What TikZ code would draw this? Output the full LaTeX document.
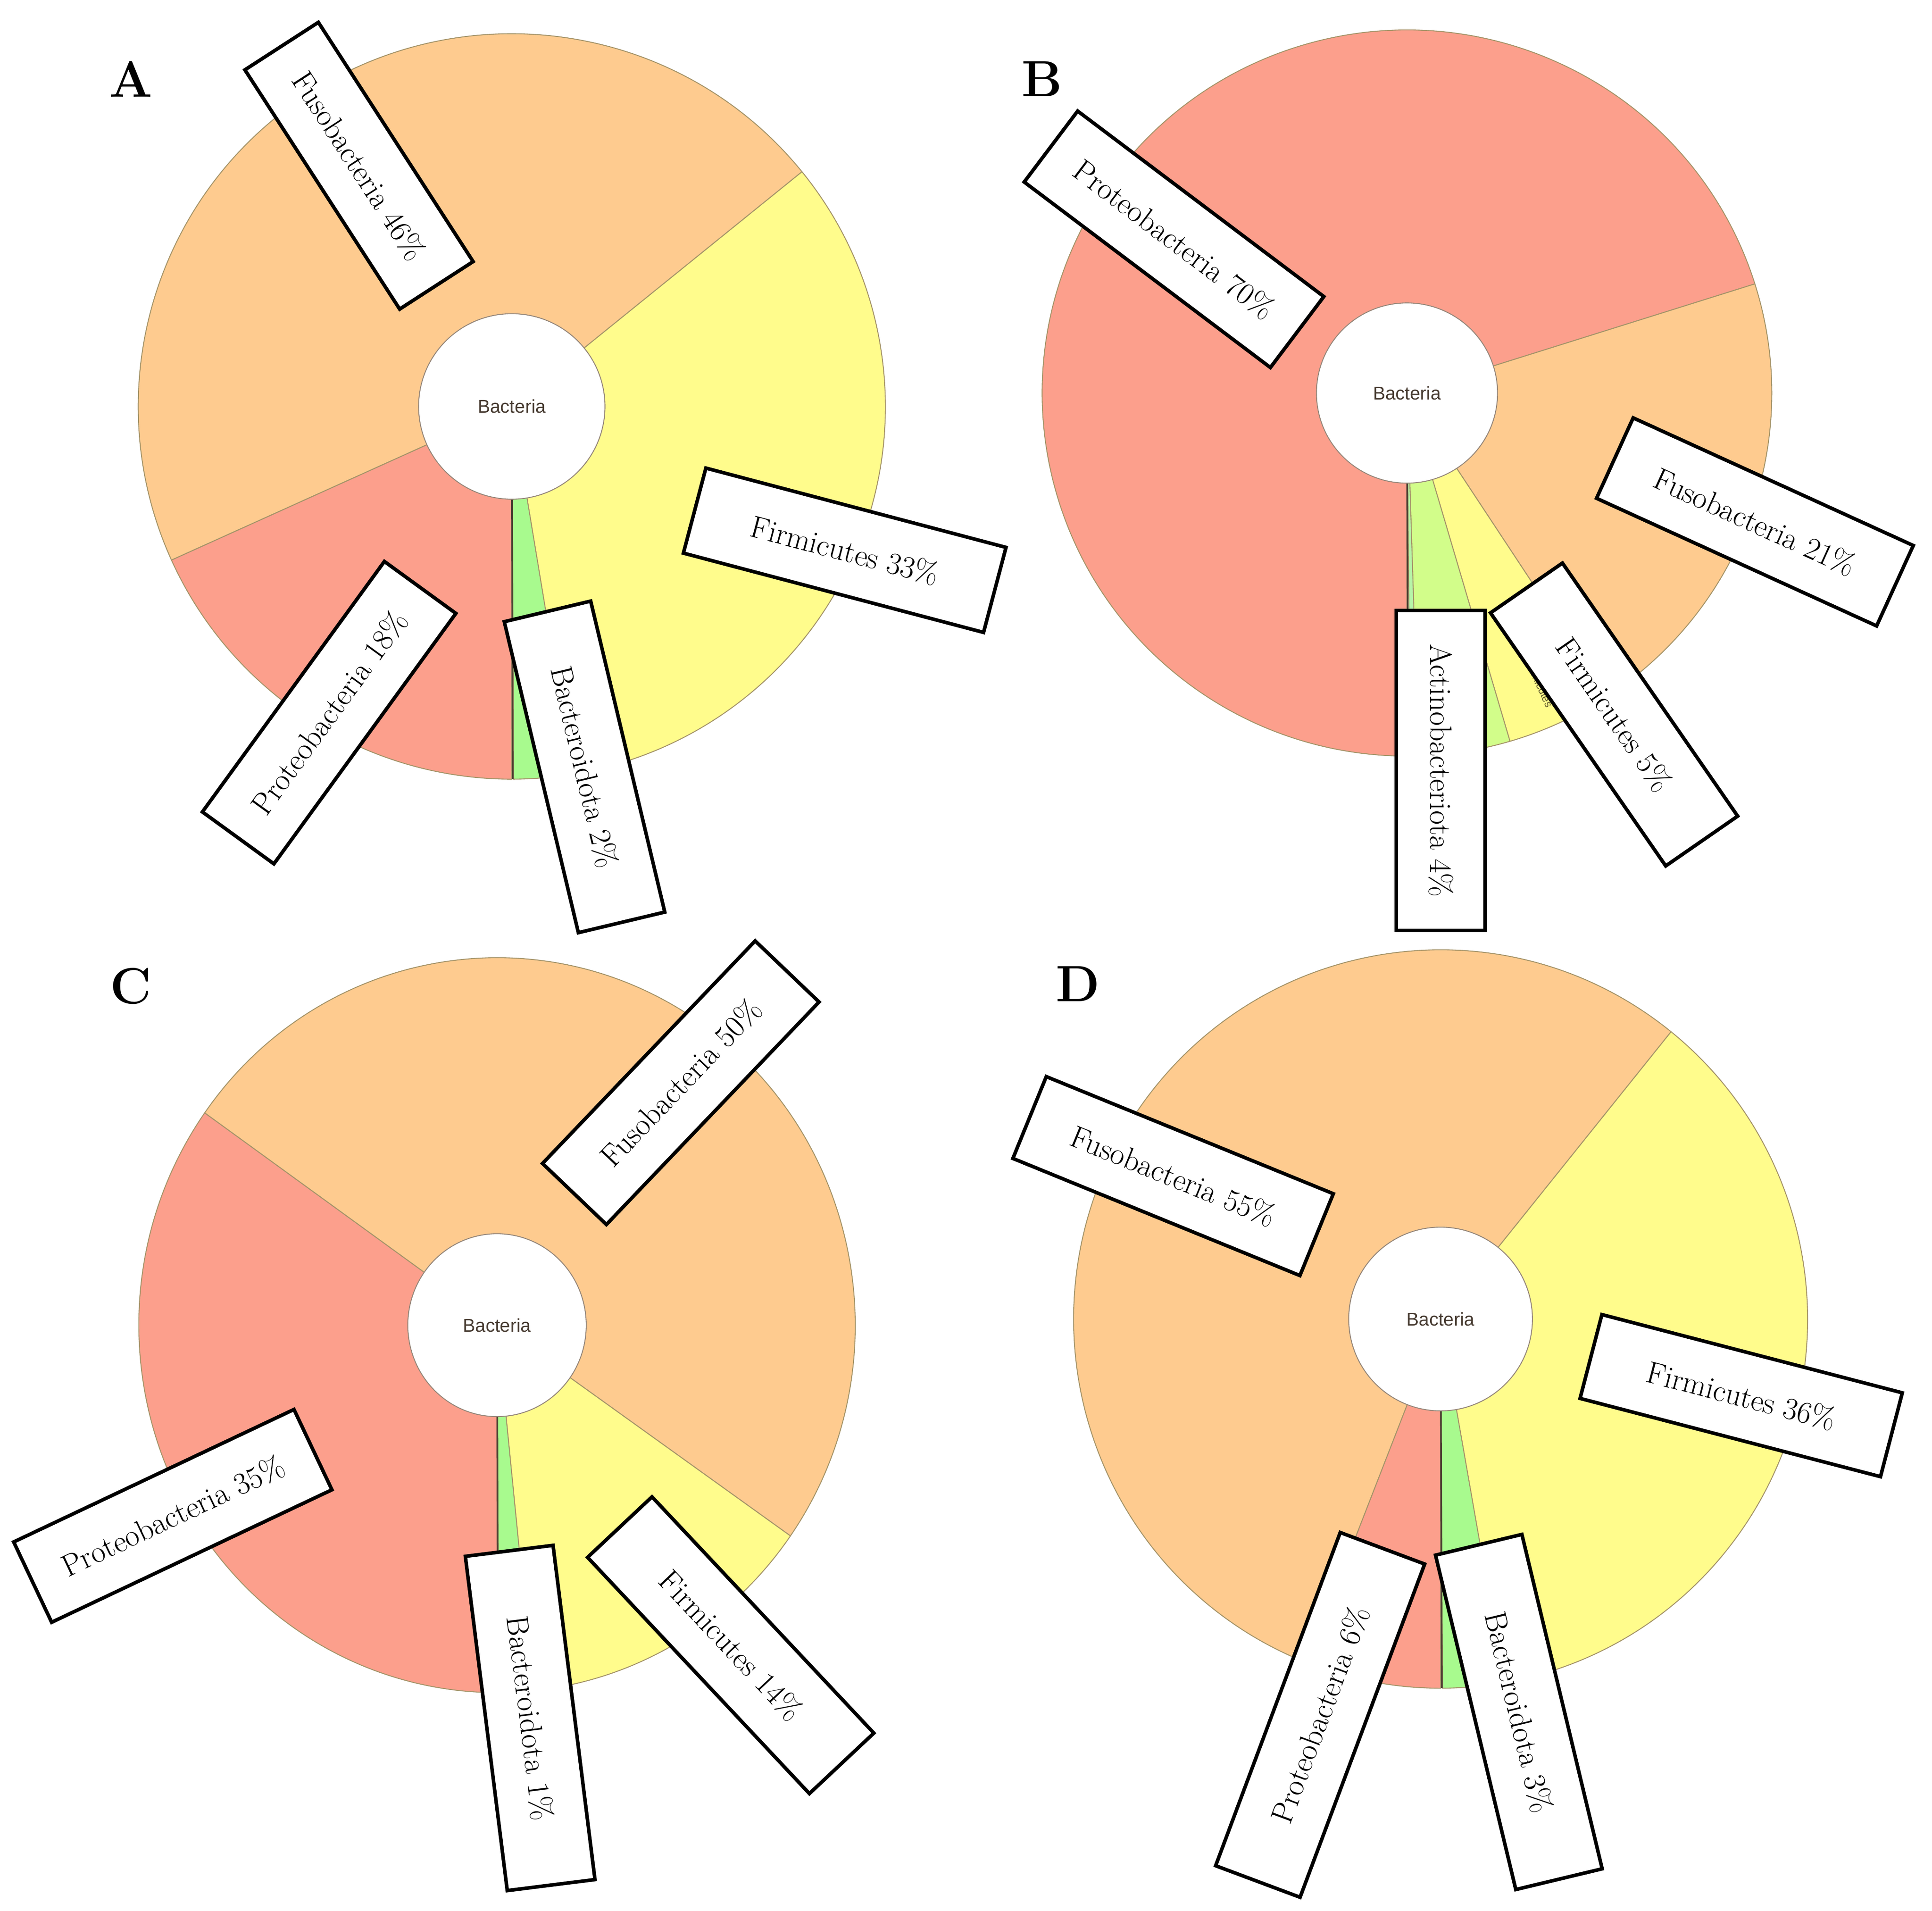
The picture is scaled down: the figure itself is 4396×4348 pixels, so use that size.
\documentclass[tikz,border=0pt]{standalone}
\usepackage{fontspec}
\newfontfamily\krsans{Liberation Sans}
\definecolor{cproteo}{RGB}{252,159,140}
\definecolor{cfuso}{RGB}{254,203,143}
\definecolor{cfirm}{RGB}{255,252,140}
\definecolor{cbact}{RGB}{168,250,142}
\definecolor{cactino}{RGB}{210,253,138}
\definecolor{cpale}{RGB}{182,245,168}
\definecolor{bordc}{RGB}{165,148,105}
\definecolor{innerc}{RGB}{150,135,122}
\definecolor{darkc}{RGB}{75,63,50}
\definecolor{bactxt}{RGB}{70,58,48}
\definecolor{slicetxt}{RGB}{95,88,45}
\newcommand{\pieslice}[5]{\filldraw[fill=#5, draw=bordc, line width=0.6pt] (0,0) -- (#1:#3 and #4) arc[start angle=#1, end angle=#2, x radius=#3, y radius=#4] -- cycle;}
\tikzset{
  lab/.style={draw=black, fill=white, line width=2.3pt, inner sep=0pt, font=\fontsize{20}{24}\selectfont, align=center},
  panel/.style={font=\fontsize{33}{36}\selectfont\bfseries},
  hub/.style={fill=white, draw=innerc, line width=0.6pt},
  hubtext/.style={font=\krsans\fontsize{12}{14}\selectfont, text=bactxt},
  slicelab/.style={font=\krsans\fontsize{7}{8}\selectfont, text=slicetxt, inner sep=0pt},
  darkline/.style={draw=darkc, line width=1.1pt}
}
\begin{document}
\begin{tikzpicture}[x=0.01cm, y=0.01cm]
\useasboundingbox (0,0) rectangle (4396,4348);
\fill[white] (0,0) rectangle (4396,4348);

% ---------------- Pie A ----------------
\begin{scope}[shift={(1164.5,3423.2)}]
  \pieslice{-80.6}{39.04}{850}{848}{cfirm}
  \pieslice{39.04}{204.35}{850}{848}{cfuso}
  \pieslice{204.35}{270}{850}{848}{cproteo}
  \pieslice{-89.7}{-80.6}{850}{848}{cbact}
  \draw[darkline] (-89.85:211 and 211) -- (-89.85:850 and 848);
  \filldraw[hub] (0,0) ellipse [x radius=212, y radius=211];
  \node[hubtext] (hA) at (0,0) {Bacteria};
\end{scope}

% ---------------- Pie B ----------------
\begin{scope}[shift={(3201.4,3453.7)}]
  \pieslice{17.5}{270}{830}{826}{cproteo}
  \pieslice{-56.7}{17.5}{830}{826}{cfuso}
  \pieslice{-73.6}{-56.7}{830}{826}{cfirm}
  \pieslice{-88.2}{-73.6}{830}{826}{cactino}
  \pieslice{-89.5}{-88.2}{830}{826}{cpale}
  \draw[darkline] (-89.84:205 and 205) -- (-89.84:830 and 826);
  \node[slicelab, rotate=-65.5, anchor=east] (sB) at (-65.5:785) {Firmicutes};
  \filldraw[hub] (0,0) ellipse [x radius=206, y radius=205];
  \node[hubtext] (hB) at (0,0) {Bacteria};
\end{scope}

% ---------------- Pie C ----------------
\begin{scope}[shift={(1130.9,1332.9)}]
  \pieslice{144.7}{270}{815}{836}{cproteo}
  \pieslice{-35.0}{144.7}{815}{836}{cfuso}
  \pieslice{-84.2}{-35.0}{815}{836}{cfirm}
  \pieslice{-89.7}{-84.2}{815}{836}{cbact}
  \draw[darkline] (-89.85:203 and 208) -- (-89.85:815 and 836);
  \filldraw[hub] (0,0) ellipse [x radius=203, y radius=208];
  \node[hubtext] (hC) at (0,0) {Bacteria};
\end{scope}

% ---------------- Pie D ----------------
\begin{scope}[shift={(3277.8,1346.9)}]
  \pieslice{-80}{51.1}{835}{840}{cfirm}
  \pieslice{51.1}{248.6}{835}{840}{cfuso}
  \pieslice{248.6}{270}{835}{840}{cproteo}
  \pieslice{-89.7}{-80}{835}{840}{cbact}
  \draw[darkline] (-89.8:209 and 209) -- (-89.8:835 and 840);
  \filldraw[hub] (0,0) ellipse [x radius=209, y radius=209];
  \node[hubtext] (hD) at (0,0) {Bacteria};
\end{scope}

% ---------------- Panel letters ----------------
\node[panel] (LA) at (297.4,4167.8) {A};
\node[panel] (LB) at (2370.9,4167.8) {B};
\node[panel] (LC) at (297.4,2104.6) {C};
\node[panel] (LD) at (2452.8,2108.8) {D};

% ---------------- Labels A ----------------
\node[lab, rotate=-57.1, minimum width=6.48cm, minimum height=1.99cm] (a1) at (816.9,3970.9) {Fusobacteria 46\%};
\node[lab, rotate=-14.8, minimum width=7.06cm, minimum height=2.00cm] (a2) at (1922,3096) {Firmicutes 33\%};
\node[lab, rotate=54.0, minimum width=7.04cm, minimum height=2.01cm] (a3) at (748.9,2726.5) {Proteobacteria 18\%};
\node[lab, rotate=-76.6, minimum width=7.27cm, minimum height=2.02cm] (a4) at (1330.0,2603.1) {Bacteroidota 2\%};

% ---------------- Labels B ----------------
\node[lab, rotate=-37.0, minimum width=7.01cm, minimum height=2.02cm] (b1) at (2671.3,3803.5) {Proteobacteria 70\%};
\node[lab, rotate=-24.5, minimum width=7.00cm, minimum height=2.01cm] (b2) at (3993.0,3160.5) {Fusobacteria 21\%};
\node[lab, rotate=-55.3, minimum width=7.00cm, minimum height=1.99cm] (b3) at (3672.6,2722.3) {Firmicutes 5\%};
\node[lab, rotate=-90, minimum width=7.28cm, minimum height=2.02cm] (b4) at (3278.4,2594.8) {Actinobacteriota 4\%};

% ---------------- Labels C ----------------
\node[lab, rotate=46.3, minimum width=7.00cm, minimum height=2.01cm] (c1) at (1549,1884.5) {Fusobacteria 50\%};
\node[lab, rotate=25.3, minimum width=7.05cm, minimum height=2.02cm] (c2) at (393.2,899) {Proteobacteria 35\%};
\node[lab, rotate=-82.85, minimum width=7.66cm, minimum height=2.01cm] (c3) at (1206.3,439.2) {Bacteroidota 1\%};
\node[lab, rotate=-46.8, minimum width=7.37cm, minimum height=2.01cm] (c4) at (1662.6,604.7) {Firmicutes 14\%};

% ---------------- Labels D ----------------
\node[lab, rotate=-22.2, minimum width=7.05cm, minimum height=2.01cm] (d1) at (2669.2,1672.1) {Fusobacteria 55\%};
\node[lab, rotate=-14.6, minimum width=7.06cm, minimum height=1.97cm] (d2) at (3961.8,1172.6) {Firmicutes 36\%};
\node[lab, rotate=69.5, minimum width=8.09cm, minimum height=2.05cm] (d3) at (3003.8,446.2) {Proteobacteria 6\%};
\node[lab, rotate=-76.5, minimum width=7.82cm, minimum height=2.02cm] (d4) at (3455.9,452.8) {Bacteroidota 3\%};
\end{tikzpicture}
\end{document}
